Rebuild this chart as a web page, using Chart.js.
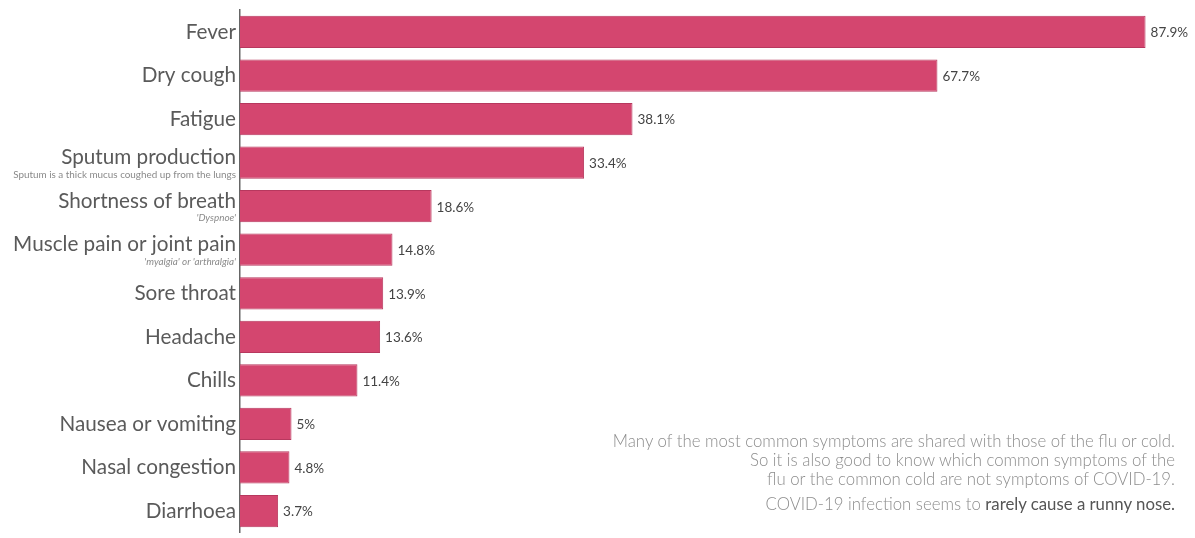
<!DOCTYPE html>
<html>
<head>
<meta charset="utf-8">
<script src="https://cdn.jsdelivr.net/npm/chart.js@4"></script>
<style>
  html, body { margin:0; padding:0; background:#fff; overflow:hidden; }
  #wrap { position:relative; width:1195px; height:543px; }
  #note { position:absolute; right:20px; top:431px; text-align:right; font-family:Lato, "Open Sans", sans-serif; font-weight:300; font-size:16.8px; line-height:19px; color:#8d8d8d; }
  #note p { margin:0; }
  #note .last { margin-top:6px; }
  #note b { font-weight:400; color:#555; }
</style>
</head>
<body>
<div id="wrap">
  <canvas id="chart"></canvas>
  <div id="note">
    <p>Many of the most common symptoms are shared with those of the flu or cold.</p>
    <p>So it is also good to know which common symptoms of the</p>
    <p>flu or the common cold are not symptoms of COVID-19.</p>
    <p class="last">COVID-19 infection seems to <b>rarely cause a runny nose.</b></p>
  </div>
</div>
<script>
(function(){
  var categories = ["Fever","Dry cough","Fatigue","Sputum production","Shortness of breath","Muscle pain or joint pain","Sore throat","Headache","Chills","Nausea or vomiting","Nasal congestion","Diarrhoea"];
  var subtitles = ["","","","Sputum is a thick mucus coughed up from the lungs","'Dyspnoe'","'myalgia' or 'arthralgia'","","","","","",""];
  var subItalic = [false,false,false,false,true,true,false,false,false,false,false,false];
  var values = [87.9,67.7,38.1,33.4,18.6,14.8,13.9,13.6,11.4,5,4.8,3.7];
  var valueLabels = ["87.9%","67.7%","38.1%","33.4%","18.6%","14.8%","13.9%","13.6%","11.4%","5%","4.8%","3.7%"];

  var FONT = "Lato, 'Open Sans', sans-serif";

  var labelPlugin = {
    id: "labels",
    afterDraw: function(chart){
      var ctx = chart.ctx;
      var y = chart.scales.y;
      var left = chart.chartArea.left;
      ctx.save();
      ctx.textAlign = "right";
      ctx.textBaseline = "middle";
      categories.forEach(function(c, i){
        var py = y.getPixelForValue(i);
        ctx.font = "400 20.7px " + FONT;
        ctx.fillStyle = "#5a5a5a";
        if(subtitles[i]){
          ctx.fillText(c, left - 4, py - 5);
          ctx.font = (subItalic[i] ? "italic " : "") + "400 9.9px " + FONT;
          ctx.fillStyle = "#8a8a8a";
          ctx.fillText(subtitles[i], left - 4, py + 12);
        } else {
          ctx.fillText(c, left - 4, py);
        }
      });
      ctx.textAlign = "left";
      ctx.font = "400 13.5px " + FONT;
      ctx.fillStyle = "#444";
      chart.getDatasetMeta(0).data.forEach(function(bar, i){
        ctx.fillText(valueLabels[i], bar.x + 5, bar.y + 1);
      });
      ctx.restore();
    }
  };

  new Chart(document.getElementById("chart"), {
    type: "bar",
    data: {
      labels: categories,
      datasets: [{
        data: values,
        backgroundColor: "#d4466f",
        borderColor: "#b7385e",
        borderWidth: 1,
        categoryPercentage: 1,
        barPercentage: 0.74
      }]
    },
    options: {
      indexAxis: "y",
      responsive: true,
      maintainAspectRatio: false,
      animation: false,
      layout: { padding: { top: 8, right: 0, bottom: 0, left: 0 } },
      plugins: { legend: { display: false }, tooltip: { enabled: false } },
      scales: {
        x: { display: false, min: 0, max: 92.7 },
        y: {
          grid: { display: false },
          border: { display: true, color: "#666", width: 1.5 },
          ticks: { callback: function(){ return ""; } },
          afterFit: function(s){ s.width = 240; }
        }
      }
    },
    plugins: [labelPlugin]
  });
})();
</script>
</body>
</html>
